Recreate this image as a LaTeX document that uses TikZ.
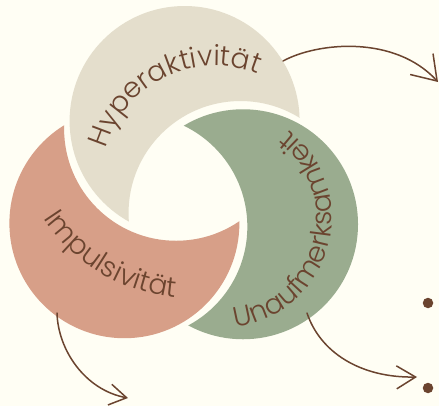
\documentclass[tikz,border=0pt]{standalone}
\usepackage{fontspec}
\IfFontExistsTF{Poppins Light}
  {\newfontfamily\lblfont{Poppins Light}}
  {\newfontfamily\lblfont{Poppins}}
\usetikzlibrary{decorations.text,arrows.meta,calc}
\definecolor{paper}{HTML}{FFFEF4}
\definecolor{sand}{HTML}{E4DECC}
\definecolor{clay}{HTML}{D79F88}
\definecolor{sage}{HTML}{9AAC8F}
\definecolor{ink}{HTML}{6B442F}
\tikzset{
  lbl/.style={decorate, decoration={text along path, text align=center,
      text={|\lblfont\fontsize{28pt}{28pt}\selectfont\color{ink}|#1}}},
  link/.style={draw=ink, line width=1.5pt, line cap=round},
  dot/.style={circle, fill=ink, inner sep=0pt, minimum size=10.5pt},
}
\begin{document}
\begin{tikzpicture}[x=1pt,y=-1pt]
\fill[paper] (0,0) rectangle (439,406);
\useasboundingbox (0,0) rectangle (439,406);

% centre of the ring and the three circles around it
\coordinate (mid) at (184,189.5);
\coordinate (cH) at ($(mid)+(89.5:68.5pt)$);
\coordinate (cI) at ($(mid)+(209.5:68.5pt)$);
\coordinate (cU) at ($(mid)+(329.5:68.5pt)$);
% the circles that bite each crescent out
\coordinate (kH) at ($(cH)+(-58.7:107.7pt)$);
\coordinate (kI) at ($(cI)+(61.3:107.7pt)$);
\coordinate (kU) at ($(cU)+(181.3:107.7pt)$);

% each crescent: its disc, minus the biting disc
\foreach \c/\k/\col in {cH/kH/sand, cI/kI/clay, cU/kU/sage}{
  \begin{scope}
    \clip (\c) circle[radius=115pt];
    \fill[\col, even odd rule] (-20,-20) rectangle (460,430) (\k) circle[radius=112pt];
  \end{scope}
}

% curved labels
\coordinate (tH) at (215,179);
\coordinate (tI) at (190,124);
\coordinate (tU) at (222,218);
\path[lbl=Hyperaktivität] (tH) ++(176:113pt) arc[start angle=176, end angle=56, radius=113pt];
\path[lbl=Impulsivität] (tI) ++(190:174pt) arc[start angle=190, end angle=288, radius=174pt];
\path[lbl=Unaufmerksamkeit] (tU) ++(-100:110pt) arc[start angle=-100, end angle=70, radius=110pt];

% arrows leaving the crescents
\coordinate (hOut) at (283,61);
\coordinate (hEnd) at (438,82);
\coordinate (uOut) at (307,313);
\coordinate (uEnd) at (417,377);
\coordinate (iOut) at (57,313);
\coordinate (iEnd) at (128,398);
\draw[link, -{Straight Barb[length=23pt,width=31pt]}] (hOut) .. controls (318,42) and (395,35) .. (hEnd);
\draw[link, -{Straight Barb[length=19pt,width=23pt]}] (uOut) .. controls (320,352) and (360,378) .. (uEnd);
\draw[link, -{Straight Barb[length=17pt,width=21pt]}] (iOut) .. controls (58,350) and (85,390) .. (iEnd);

% bullet dots
\node[dot] (d1) at (428,303) {};
\node[dot] (d2) at (428,388) {};
\end{tikzpicture}
\end{document}
